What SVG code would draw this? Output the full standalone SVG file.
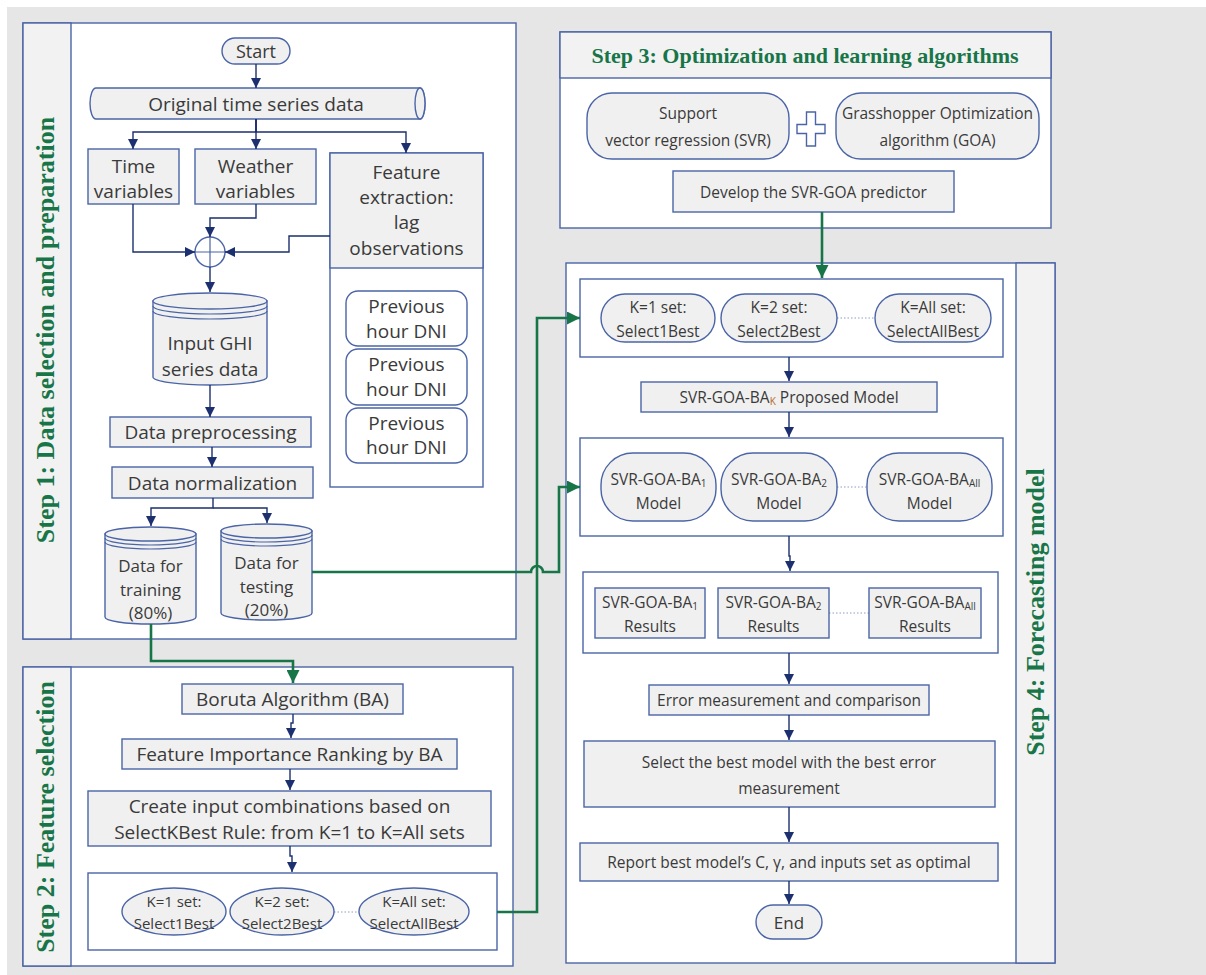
<svg xmlns="http://www.w3.org/2000/svg" width="1206" height="975" viewBox="0 0 1206 975">
<defs>
<style>
.panel{fill:#ffffff;stroke:#4a64a6;stroke-width:1.4}
.stripe{fill:#f2f2f2;stroke:#4a64a6;stroke-width:1.4}
.box{fill:#f0f0f0;stroke:#4a64a6;stroke-width:1.4}
.wbox{fill:#ffffff;stroke:#4a64a6;stroke-width:1.4}
.t{font-family:"Open Sans","Liberation Sans",sans-serif;font-size:19px;fill:#3a3a3a;text-anchor:middle;dominant-baseline:central}
.c{font-family:"Open Sans","Liberation Sans",sans-serif;font-size:17px;fill:#3a3a3a;text-anchor:middle;dominant-baseline:central}
.s{font-family:"Open Sans","Liberation Sans",sans-serif;font-size:15.5px;fill:#3a3a3a;text-anchor:middle;dominant-baseline:central}
.e{font-family:"Open Sans","Liberation Sans",sans-serif;font-size:15px;fill:#3a3a3a;text-anchor:middle;dominant-baseline:central}
.title{font-family:"Liberation Serif","Times New Roman",serif;font-weight:bold;font-size:26px;fill:#177548;text-anchor:middle}
.nav{fill:none;stroke:#1c2f6e;stroke-width:1.4;marker-end:url(#an)}
.grn{fill:none;stroke:#177548;stroke-width:2.6;marker-end:url(#ag)}
.dot{stroke:#8d9cc4;stroke-width:1;stroke-dasharray:1.5 2}
</style>
<marker id="an" viewBox="0 0 10 10" refX="10" refY="5" markerUnits="userSpaceOnUse" markerWidth="10" markerHeight="11" orient="auto"><path d="M0,0 L10,5 L0,10 Z" fill="#1c2f6e"/></marker>
<marker id="ag" viewBox="0 0 10 10" refX="10" refY="5" markerUnits="userSpaceOnUse" markerWidth="15" markerHeight="13" orient="auto"><path d="M0,0 L10,5 L0,10 Z" fill="#177548"/></marker>
</defs>
<rect x="0" y="0" width="1206" height="975" fill="#ffffff"/>
<rect x="7" y="7" width="1199" height="968" fill="#e6e6e6"/>

<!-- Step 1 panel -->
<g id="step1">
<rect class="panel" x="23" y="23" width="493" height="616"/>
<rect class="stripe" x="23" y="23" width="48" height="616"/>
<text class="title" transform="translate(54,330) rotate(-90)">Step 1: Data selection and preparation</text>
</g>
<!-- Step 2 panel -->
<g id="step2">
<rect class="panel" x="23" y="667" width="490" height="299"/>
<rect class="stripe" x="23" y="667" width="48" height="299"/>
<text class="title" transform="translate(54,817) rotate(-90)">Step 2: Feature selection</text>
</g>
<!-- Step 3 panel -->
<g id="step3">
<rect class="panel" x="560" y="32" width="491" height="196"/>
<rect class="stripe" x="560" y="32" width="491" height="46"/>
<text class="title" x="805" y="63" style="font-size:22px">Step 3: Optimization and learning algorithms</text>
</g>
<!-- Step 4 panel -->
<g id="step4">
<rect class="panel" x="566" y="263" width="489" height="700"/>
<rect class="stripe" x="1016" y="263" width="39" height="700"/>
<text class="title" transform="translate(1044,612) rotate(-90)">Step 4: Forecasting model</text>
</g>

<!-- Step 1 nodes -->
<g id="start"><rect class="box" x="222" y="38" width="68" height="26" rx="13"/><text class="t" x="256" y="51" style="font-size:18px">Start</text></g>
<g id="original">
<path class="box" d="M96,88 L420,88 A5,15.5 0 0 1 420,119 L96,119 A6,15.5 0 0 1 96,88 Z"/>
<ellipse cx="420" cy="103.5" rx="5" ry="15.5" fill="#f0f0f0" stroke="#4a64a6" stroke-width="1.4"/>
<text class="t" x="256" y="104">Original time series data</text>
</g>
<g id="time"><rect class="box" x="88" y="149" width="91" height="55"/><text class="t" x="133.5" y="166">Time</text><text class="t" x="133.5" y="191">variables</text></g>
<g id="weather"><rect class="box" x="195" y="149" width="121" height="55"/><text class="t" x="255.5" y="166">Weather</text><text class="t" x="255.5" y="191">variables</text></g>
<g id="feature">
<rect class="wbox" x="330" y="153" width="153" height="334"/>
<rect class="box" x="330" y="153" width="153" height="115"/>
<text class="t" x="406.5" y="172">Feature</text><text class="t" x="406.5" y="197">extraction:</text><text class="t" x="406.5" y="222">lag</text><text class="t" x="406.5" y="248">observations</text>
</g>
<g id="prev1"><rect class="wbox" x="346" y="291" width="121" height="55" rx="12"/><text class="t" x="406.5" y="306">Previous</text><text class="t" x="406.5" y="331">hour DNI</text></g>
<g id="prev2"><rect class="wbox" x="346" y="349" width="121" height="56" rx="12"/><text class="t" x="406.5" y="364">Previous</text><text class="t" x="406.5" y="389">hour DNI</text></g>
<g id="prev3"><rect class="wbox" x="346" y="408" width="121" height="55" rx="12"/><text class="t" x="406.5" y="423">Previous</text><text class="t" x="406.5" y="447">hour DNI</text></g>
<g id="sum"><circle cx="210" cy="252" r="15" fill="#ffffff" stroke="#4a64a6" stroke-width="1.4"/><path d="M210,237 V267 M195,252 H225" stroke="#4a64a6" stroke-width="1.2"/></g>
<g id="ghi">
<path class="box" d="M153,301 L153,377 A57,8 0 0 0 267,377 L267,301 Z"/>
<ellipse cx="210" cy="301" rx="57" ry="8" fill="#f0f0f0" stroke="#4a64a6" stroke-width="1.4"/>
<path d="M153,306 A57,8 0 0 0 267,306 M153,311 A57,8 0 0 0 267,311" fill="none" stroke="#4a64a6" stroke-width="1.2"/>
<text class="t" x="210" y="343">Input GHI</text><text class="t" x="210" y="369">series data</text>
</g>
<g id="preproc"><rect class="box" x="110" y="417" width="201" height="30"/><text class="t" x="210.5" y="432">Data preprocessing</text></g>
<g id="norm"><rect class="box" x="112" y="467" width="201" height="31"/><text class="t" x="212.5" y="483">Data normalization</text></g>
<g id="train">
<path class="box" d="M105,534 L105,617 A45.5,7 0 0 0 196,617 L196,534 Z"/>
<ellipse cx="150.5" cy="534" rx="45.5" ry="7" fill="#f0f0f0" stroke="#4a64a6" stroke-width="1.4"/>
<path d="M105,538 A45.5,7 0 0 0 196,538 M105,542 A45.5,7 0 0 0 196,542" fill="none" stroke="#4a64a6" stroke-width="1.2"/>
<text class="c" x="150.5" y="565">Data for</text><text class="c" x="150.5" y="589">training</text><text class="c" x="150.5" y="612">(80%)</text>
</g>
<g id="test">
<path class="box" d="M221,531 L221,613 A45.5,7 0 0 0 312,613 L312,531 Z"/>
<ellipse cx="266.5" cy="531" rx="45.5" ry="7" fill="#f0f0f0" stroke="#4a64a6" stroke-width="1.4"/>
<path d="M221,535 A45.5,7 0 0 0 312,535 M221,539 A45.5,7 0 0 0 312,539" fill="none" stroke="#4a64a6" stroke-width="1.2"/>
<text class="c" x="266.5" y="562">Data for</text><text class="c" x="266.5" y="586">testing</text><text class="c" x="266.5" y="609">(20%)</text>
</g>

<!-- Step 2 nodes -->
<g id="boruta"><rect class="box" x="182" y="684" width="221" height="30"/><text class="t" x="292.5" y="699">Boruta Algorithm (BA)</text></g>
<g id="ranking"><rect class="box" x="122" y="739" width="335" height="30"/><text class="t" x="289.5" y="754">Feature Importance Ranking by BA</text></g>
<g id="combos"><rect class="box" x="88" y="791" width="403" height="55"/><text class="t" x="289.5" y="806">Create input combinations based on</text><text class="t" x="289.5" y="832">SelectKBest Rule: from K=1 to K=All sets</text></g>
<g id="sets2">
<rect class="wbox" x="88" y="873" width="409" height="77"/>
<line class="dot" x1="334" y1="912" x2="359" y2="912"/>
<ellipse cx="174" cy="911.5" rx="52" ry="23.5" fill="#f0f0f0" stroke="#4a64a6" stroke-width="1.4"/>
<ellipse cx="282" cy="911.5" rx="52" ry="23.5" fill="#f0f0f0" stroke="#4a64a6" stroke-width="1.4"/>
<ellipse cx="414" cy="911.5" rx="55" ry="23.5" fill="#f0f0f0" stroke="#4a64a6" stroke-width="1.4"/>
<text class="e" x="174" y="901">K=1 set:</text><text class="e" x="174" y="923">Select1Best</text>
<text class="e" x="282" y="901">K=2 set:</text><text class="e" x="282" y="923">Select2Best</text>
<text class="e" x="414" y="901">K=All set:</text><text class="e" x="414" y="923">SelectAllBest</text>
</g>

<!-- Step 3 nodes -->
<g id="svr"><rect class="box" x="587" y="93" width="202" height="66" rx="25"/><text class="s" x="688" y="113">Support</text><text class="s" x="688" y="140">vector regression (SVR)</text></g>
<g id="plus"><polygon points="806.5,112 815.5,112 815.5,124.5 825,124.5 825,133.5 815.5,133.5 815.5,146 806.5,146 806.5,133.5 797,133.5 797,124.5 806.5,124.5" fill="#ffffff" stroke="#4a64a6" stroke-width="1.4"/></g>
<g id="goa"><rect class="box" x="836" y="93" width="203" height="66" rx="25"/><text class="s" x="937.5" y="113">Grasshopper Optimization</text><text class="s" x="937.5" y="140">algorithm (GOA)</text></g>
<g id="develop"><rect class="box" x="673" y="171" width="281" height="41"/><text class="s" x="813.5" y="192">Develop the SVR-GOA predictor</text></g>

<!-- Step 4 nodes -->
<g id="sets4">
<rect class="wbox" x="580" y="279" width="423" height="78"/>
<line class="dot" x1="837" y1="318" x2="875" y2="318"/>
<rect class="box" x="601" y="294" width="114" height="48" rx="24"/>
<rect class="box" x="721" y="294" width="116" height="48" rx="24"/>
<rect class="box" x="875" y="294" width="116" height="48" rx="24"/>
<text class="s" x="658" y="307">K=1 set:</text><text class="s" x="658" y="331">Select1Best</text>
<text class="s" x="779" y="307">K=2 set:</text><text class="s" x="779" y="331">Select2Best</text>
<text class="s" x="933" y="307">K=All set:</text><text class="s" x="933" y="331">SelectAllBest</text>
</g>
<g id="proposed"><rect class="box" x="641" y="382" width="296" height="30"/><text class="s" x="789" y="397">SVR-GOA-BA<tspan font-size="10" dy="4" fill="#b8682a">K</tspan><tspan dy="-4"> Proposed Model</tspan></text></g>
<g id="models">
<rect class="wbox" x="580" y="438" width="423" height="98"/>
<line class="dot" x1="837" y1="487" x2="867" y2="487"/>
<rect class="box" x="601" y="453" width="115" height="68" rx="32"/>
<rect class="box" x="721" y="453" width="116" height="68" rx="32"/>
<rect class="box" x="867" y="453" width="125" height="68" rx="32"/>
<text class="s" x="658.5" y="479">SVR-GOA-BA<tspan font-size="10" dy="4">1</tspan></text><text class="s" x="658.5" y="503">Model</text>
<text class="s" x="779" y="479">SVR-GOA-BA<tspan font-size="10" dy="4">2</tspan></text><text class="s" x="779" y="503">Model</text>
<text class="s" x="929.5" y="479">SVR-GOA-BA<tspan font-size="10" dy="4">All</tspan></text><text class="s" x="929.5" y="503">Model</text>
</g>
<g id="results">
<rect class="wbox" x="583" y="572" width="415" height="81"/>
<line class="dot" x1="829" y1="613" x2="869" y2="613"/>
<rect class="box" x="595" y="588" width="110" height="50"/>
<rect class="box" x="718" y="588" width="111" height="50"/>
<rect class="box" x="869" y="588" width="112" height="50"/>
<text class="s" x="650" y="602">SVR-GOA-BA<tspan font-size="10" dy="4">1</tspan></text><text class="s" x="650" y="626">Results</text>
<text class="s" x="773.5" y="602">SVR-GOA-BA<tspan font-size="10" dy="4">2</tspan></text><text class="s" x="773.5" y="626">Results</text>
<text class="s" x="925" y="602">SVR-GOA-BA<tspan font-size="10" dy="4">All</tspan></text><text class="s" x="925" y="626">Results</text>
</g>
<g id="error"><rect class="box" x="649" y="685" width="280" height="30"/><text class="s" x="789" y="700">Error measurement and comparison</text></g>
<g id="select"><rect class="box" x="584" y="741" width="411" height="66"/><text class="s" x="789" y="762">Select the best model with the best error</text><text class="s" x="789" y="788">measurement</text></g>
<g id="report"><rect class="box" x="580" y="843" width="418" height="38"/><text class="s" x="789" y="862">Report best model’s C, γ, and inputs set as optimal</text></g>
<g id="end"><rect class="box" x="756" y="905" width="66" height="34" rx="17"/><text class="s" x="789" y="922" style="font-size:17px">End</text></g>

<!-- Connectors -->
<g id="connectors">
<path class="nav" d="M256,64 V88"/>
<path class="nav" d="M256,119 V132 H133 V149"/>
<path class="nav" d="M256,119 V149"/>
<path class="nav" d="M256,119 V132 H406 V153"/>
<path class="nav" d="M133,204 V252 H195"/>
<path class="nav" d="M256,204 V218 H210 V237"/>
<path class="nav" d="M330,236 H289 V252 H225"/>
<path class="nav" d="M210,267 V292"/>
<path class="nav" d="M210,385 V417"/>
<path class="nav" d="M212,447 V467"/>
<path class="nav" d="M213,498 V508 H151 V526"/>
<path class="nav" d="M213,508 H267 V523"/>
<path class="nav" d="M293,714 V723 H291 V738"/>
<path class="nav" d="M290,769 V790"/>
<path class="nav" d="M290,846 V856 H292 V872"/>
<path class="nav" d="M789,357 V381"/>
<path class="nav" d="M789,412 V437"/>
<path class="nav" d="M789,536 V556 H790 V571"/>
<path class="nav" d="M789,653 V684"/>
<path class="nav" d="M789,715 V740"/>
<path class="nav" d="M789,807 V842"/>
<path class="nav" d="M789,881 V904"/>
<path class="grn" d="M822,212 V278"/>
<path class="grn" d="M151,624 V661 H293 V683"/>
<path class="grn" d="M497,912 H537 V318 H580"/>
<path class="grn" d="M312,572 H531 A6,6 0 0 1 543,572 H559 V487 H580"/>
</g>
</svg>
